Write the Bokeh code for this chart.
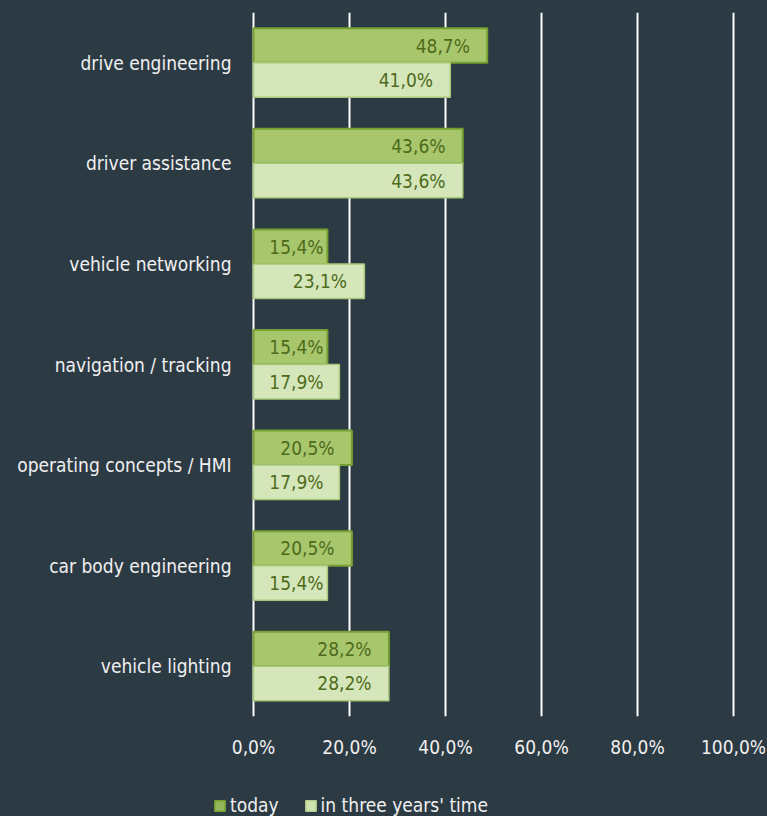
from bokeh.plotting import figure
from bokeh.models import ColumnDataSource, FactorRange, Range1d, Legend, LegendItem, CustomJSTickFormatter
from bokeh.layouts import column
from bokeh.transform import dodge
from bokeh.core.properties import value
from bokeh.embed import file_html
from bokeh.resources import INLINE
import numpy as np

categories = ["drive engineering", "driver assistance", "vehicle networking",
              "navigation / tracking", "operating concepts / HMI",
              "car body engineering", "vehicle lighting"]
today = [48.7, 43.6, 15.4, 15.4, 20.5, 20.5, 28.2]
three_years = [41.0, 43.6, 23.1, 17.9, 17.9, 15.4, 28.2]
series_names = ["today", "in three years' time"]

BG = "#2c3a44"
FONT = "DejaVu Sans Condensed"
FS = "19px"
TODAY_FILL, TODAY_LINE = "#a8c66c", "#76a032"
THREE_FILL, THREE_LINE = "#d5e6ba", "#a9c97a"

def fmt(v):
    return ("%.1f%%" % v).replace(".", ",")

cats_rev = categories[::-1]
src = ColumnDataSource(dict(
    cat=categories,
    today=today,
    three=three_years,
    today_lab=[fmt(v) for v in today],
    three_lab=[fmt(v) for v in three_years],
    today_lx=list(np.maximum(np.array(today) - 3.6, 14.6)),
    three_lx=list(np.maximum(np.array(three_years) - 3.6, 14.6)),
))

LEFT = 213  # frame left (shared with legend strip)
p = figure(width=767, height=790, output_backend="svg", toolbar_location=None,
           y_range=FactorRange(*cats_rev, range_padding=0),
           x_range=Range1d(-40 / 4.8, 101.46),
           background_fill_color=BG, border_fill_color=BG,
           min_border_left=LEFT, min_border_right=27, min_border_top=12,
           min_border_bottom=74)
p.outline_line_color = None

bh = 0.343
r1 = p.hbar(y=dodge("cat", 0.1715, range=p.y_range), right="today", left=0, height=bh,
            source=src, fill_color=TODAY_FILL, line_color=TODAY_LINE, line_width=2)
r2 = p.hbar(y=dodge("cat", -0.1715, range=p.y_range), right="three", left=0, height=bh,
            source=src, fill_color=THREE_FILL, line_color=THREE_LINE, line_width=1.5)

p.text(x="today_lx", y=dodge("cat", 0.1715, range=p.y_range), text="today_lab", source=src,
       text_align="right", text_baseline="middle", text_color="#4e6b1c",
       text_font=value(FONT), text_font_size=FS)
p.text(x="three_lx", y=dodge("cat", -0.1715, range=p.y_range), text="three_lab", source=src,
       text_align="right", text_baseline="middle", text_color="#4e6b1c",
       text_font=value(FONT), text_font_size=FS)

p.xgrid.grid_line_color = "white"
p.xgrid.grid_line_width = 2
p.ygrid.grid_line_color = None
p.xaxis.ticker = [0, 20, 40, 60, 80, 100]
p.xaxis.formatter = CustomJSTickFormatter(code="return tick.toFixed(1).replace('.', ',') + '%';")

for ax in (p.xaxis, p.yaxis):
    ax.axis_line_color = None
    ax.major_tick_line_color = None
    ax.minor_tick_line_color = None
    ax.major_tick_out = 0
    ax.major_tick_in = 0
    ax.major_label_text_color = "#f0f0f0"
    ax.major_label_text_font = FONT
    ax.major_label_text_font_size = FS
p.yaxis.major_label_standoff = -18
p.xaxis.major_label_standoff = 19

# legend strip
pl = figure(width=767, height=26, output_backend="svg", toolbar_location=None,
            x_range=Range1d(0, 1), y_range=Range1d(0, 1),
            background_fill_color=BG, border_fill_color=BG,
            min_border_left=LEFT, min_border_right=27, min_border_top=0, min_border_bottom=0)
pl.outline_line_color = None
pl.axis.visible = False
pl.grid.grid_line_color = None
# swatch-only renderers: their single bar has no coordinates, so nothing is drawn
dummy = ColumnDataSource(dict(y=[float("nan")], l=[float("nan")], r=[float("nan")]))
l1 = pl.hbar(y="y", right="r", left="l", height=0.5, source=dummy,
             fill_color="#95b65a", line_color=TODAY_LINE, line_width=1.5)
l2 = pl.hbar(y="y", right="r", left="l", height=0.5, source=dummy,
             fill_color="#d0e2b4", line_color="#b4d08c", line_width=1.5)
legend = Legend(items=[LegendItem(label=series_names[0], renderers=[l1]),
                       LegendItem(label=series_names[1], renderers=[l2])],
                orientation="horizontal", location=(0, 0),
                background_fill_alpha=0, border_line_color=None,
                label_text_color="#f0f0f0", label_text_font=FONT,
                label_text_font_size=FS, glyph_width=13, glyph_height=13,
                label_standoff=4, spacing=25, padding=0, margin=0,
                label_height=13)
pl.add_layout(legend)

layout = column(p, pl, spacing=0)
html = file_html(layout, INLINE)
html = html.replace("</head>", "<style>html, body { background: %s; }</style>\n</head>" % BG, 1)
open("out.html", "w").write(html)
